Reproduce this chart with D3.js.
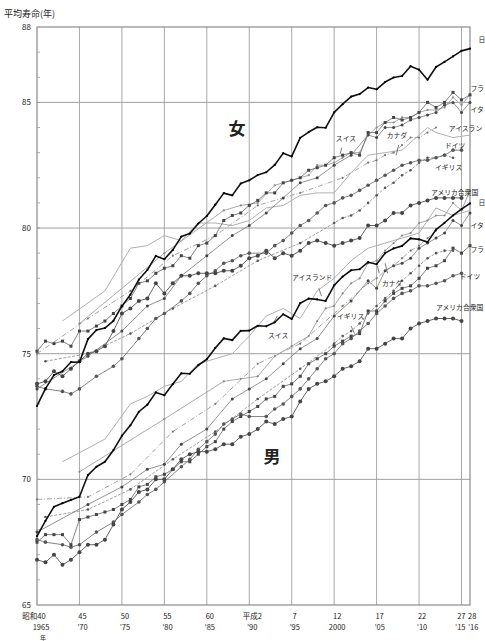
<!DOCTYPE html>
<html><head><meta charset="utf-8">
<script src="https://cdn.jsdelivr.net/npm/d3@7"></script>
<style>
body{margin:0;background:#fff;overflow:hidden;}
text{font-family:"Noto Sans CJK JP","Noto Sans",sans-serif;fill:#222;}
</style>
</head><body><svg id="c" width="485" height="641"></svg>
<script>
// ---------- data (年, 平均寿命) ----------
const yTicks = [65,70,75,80,85,88];
const xTickYears = [1965,1970,1975,1980,1985,1990,1995,2000,2005,2010,2015,2016];
const xTickWareki = ["昭和40","45","50","55","60","平成2","7","12","17","22","27","28"];
const xTickSeireki = ["1965","’70","’75","’80","’85","’90","’95","2000","’05","’10","’15","’16"];

const japanF = [[1965,72.92],[1966,73.61],[1967,74.15],[1968,74.30],[1969,74.67],[1970,74.66],[1971,75.58],[1972,75.94],[1973,76.02],[1974,76.31],[1975,76.89],[1976,77.35],[1977,77.95],[1978,78.33],[1979,78.89],[1980,78.76],[1981,79.13],[1982,79.66],[1983,79.78],[1984,80.18],[1985,80.48],[1986,80.93],[1987,81.39],[1988,81.30],[1989,81.77],[1990,81.90],[1991,82.11],[1992,82.22],[1993,82.51],[1994,82.98],[1995,82.85],[1996,83.59],[1997,83.82],[1998,84.01],[1999,83.99],[2000,84.60],[2001,84.93],[2002,85.23],[2003,85.33],[2004,85.59],[2005,85.52],[2006,85.81],[2007,85.99],[2008,86.05],[2009,86.44],[2010,86.30],[2011,85.90],[2012,86.41],[2013,86.61],[2014,86.83],[2015,87.05],[2016,87.14]];
const japanM = [[1965,67.74],[1966,68.35],[1967,68.91],[1968,69.05],[1969,69.18],[1970,69.31],[1971,70.17],[1972,70.50],[1973,70.70],[1974,71.16],[1975,71.73],[1976,72.15],[1977,72.69],[1978,72.97],[1979,73.46],[1980,73.35],[1981,73.79],[1982,74.22],[1983,74.20],[1984,74.54],[1985,74.78],[1986,75.23],[1987,75.61],[1988,75.54],[1989,75.91],[1990,75.92],[1991,76.11],[1992,76.09],[1993,76.25],[1994,76.57],[1995,76.38],[1996,77.01],[1997,77.19],[1998,77.16],[1999,77.10],[2000,77.72],[2001,78.07],[2002,78.32],[2003,78.36],[2004,78.64],[2005,78.56],[2006,79.00],[2007,79.19],[2008,79.29],[2009,79.59],[2010,79.55],[2011,79.44],[2012,79.94],[2013,80.21],[2014,80.50],[2015,80.75],[2016,80.98]];

const franceF = [[1965,75.1],[1966,75.5],[1967,75.4],[1968,75.5],[1969,75.3],[1970,75.9],[1971,75.9],[1972,76.1],[1973,76.3],[1974,76.6],[1975,76.9],[1976,77.2],[1977,77.8],[1978,77.9],[1979,78.2],[1980,78.4],[1981,78.5],[1982,78.9],[1983,78.8],[1984,79.3],[1985,79.4],[1986,79.7],[1987,80.3],[1988,80.5],[1989,80.6],[1990,80.9],[1991,81.1],[1992,81.4],[1993,81.4],[1994,81.8],[1995,81.9],[1996,82.0],[1997,82.3],[1998,82.4],[1999,82.5],[2000,82.8],[2001,82.9],[2002,83.0],[2003,82.9],[2004,83.8],[2005,83.8],[2006,84.2],[2007,84.4],[2008,84.3],[2009,84.4],[2010,84.6],[2011,85.0],[2012,84.8],[2013,85.0],[2014,85.4],[2015,85.1],[2016,85.3]];
const franceM = [[1965,67.5],[1966,67.8],[1967,67.8],[1968,67.8],[1969,67.4],[1970,68.4],[1971,68.5],[1972,68.6],[1973,68.7],[1974,68.8],[1975,69.0],[1976,69.2],[1977,69.7],[1978,69.8],[1979,70.1],[1980,70.2],[1981,70.4],[1982,70.7],[1983,70.7],[1984,71.0],[1985,71.3],[1986,71.5],[1987,72.0],[1988,72.3],[1989,72.5],[1990,72.7],[1991,72.9],[1992,73.2],[1993,73.3],[1994,73.7],[1995,73.8],[1996,74.1],[1997,74.6],[1998,74.8],[1999,75.0],[2000,75.3],[2001,75.5],[2002,75.7],[2003,75.8],[2004,76.7],[2005,76.7],[2006,77.1],[2007,77.4],[2008,77.6],[2009,77.7],[2010,78.0],[2011,78.4],[2012,78.5],[2013,78.7],[2014,79.2],[2015,79.0],[2016,79.3]];

const italyF = [[1965,73.6],[1971,74.9],[1975,75.9],[1978,76.9],[1980,77.2],[1982,78.1],[1985,78.9],[1988,79.7],[1990,80.1],[1992,80.6],[1994,81.2],[1996,81.8],[1998,82.0],[2000,82.5],[2002,82.9],[2004,83.7],[2005,83.6],[2006,84.0],[2007,84.0],[2008,84.1],[2009,84.3],[2010,84.4],[2011,84.5],[2012,84.6],[2013,84.9],[2014,85.0],[2015,84.6],[2016,85.0]];
const italyM = [[1965,67.9],[1971,69.0],[1975,69.7],[1978,70.4],[1980,70.6],[1982,71.4],[1985,72.0],[1988,73.2],[1990,73.6],[1992,74.0],[1994,74.6],[1996,75.2],[1998,75.6],[2000,76.5],[2002,77.1],[2004,77.9],[2005,77.6],[2006,78.3],[2007,78.5],[2008,78.6],[2009,78.8],[2010,79.2],[2011,79.4],[2012,79.6],[2013,79.8],[2014,80.3],[2015,80.1],[2016,80.6]];

const germanyF = [[1965,73.7],[1966,73.6],[1968,73.5],[1969,73.4],[1970,73.6],[1972,74.1],[1974,74.5],[1975,74.8],[1977,75.6],[1978,76.0],[1979,76.4],[1980,76.6],[1982,77.1],[1983,77.4],[1984,77.8],[1985,78.1],[1986,78.3],[1987,78.6],[1988,78.7],[1989,78.9],[1990,79.0],[1992,79.0],[1993,79.3],[1994,79.5],[1995,79.8],[1996,80.1],[1997,80.3],[1998,80.6],[1999,80.9],[2000,81.0],[2001,81.2],[2002,81.3],[2003,81.5],[2004,81.7],[2005,81.9],[2006,82.1],[2007,82.3],[2008,82.5],[2009,82.6],[2010,82.7],[2011,82.7],[2012,82.8],[2013,82.9],[2014,83.1],[2015,83.1]];
const germanyM = [[1965,67.6],[1966,67.5],[1968,67.4],[1969,67.3],[1970,67.4],[1972,67.9],[1974,68.3],[1975,68.6],[1977,69.1],[1978,69.4],[1979,69.6],[1980,69.9],[1982,70.5],[1983,70.8],[1984,71.2],[1985,71.5],[1986,71.8],[1987,72.2],[1988,72.4],[1989,72.6],[1990,72.5],[1992,72.5],[1993,72.8],[1994,73.0],[1995,73.3],[1996,73.6],[1997,74.0],[1998,74.4],[1999,74.8],[2000,75.0],[2001,75.4],[2002,75.6],[2003,75.9],[2004,76.2],[2005,76.6],[2006,76.9],[2007,77.2],[2008,77.4],[2009,77.5],[2010,77.7],[2011,77.7],[2012,77.8],[2013,77.9],[2014,78.1],[2015,78.2]];

const ukF = [[1966,74.7],[1971,75.0],[1976,75.8],[1981,76.8],[1986,77.7],[1991,78.7],[1996,79.4],[2000,80.2],[2001,80.4],[2002,80.5],[2003,80.7],[2004,81.0],[2005,81.3],[2006,81.6],[2007,81.8],[2008,82.1],[2009,82.3],[2010,82.6],[2011,82.8],[2012,82.8],[2013,82.9],[2014,82.8]];
const ukM = [[1966,68.5],[1971,68.8],[1976,69.6],[1981,70.8],[1986,71.9],[1991,73.2],[1996,74.4],[2000,75.4],[2001,75.7],[2002,75.9],[2003,76.2],[2004,76.6],[2005,76.9],[2006,77.2],[2007,77.5],[2008,77.9],[2009,78.2],[2010,78.5],[2011,78.8],[2012,79.0],[2013,79.1],[2014,79.1]];

const usaF = [[1965,73.8],[1966,73.9],[1967,74.3],[1968,74.1],[1969,74.4],[1970,74.7],[1971,75.0],[1972,75.1],[1973,75.3],[1974,75.9],[1975,76.6],[1976,76.8],[1977,77.1],[1978,77.2],[1979,77.8],[1980,77.4],[1981,77.8],[1982,78.1],[1983,78.1],[1984,78.2],[1985,78.2],[1986,78.2],[1987,78.3],[1988,78.3],[1989,78.5],[1990,78.8],[1991,78.9],[1992,79.1],[1993,78.8],[1994,79.0],[1995,78.9],[1996,79.1],[1997,79.4],[1998,79.5],[1999,79.4],[2000,79.3],[2001,79.4],[2002,79.5],[2003,79.6],[2004,80.1],[2005,80.1],[2006,80.3],[2007,80.6],[2008,80.6],[2009,80.9],[2010,81.0],[2011,81.1],[2012,81.2],[2013,81.2],[2014,81.2],[2015,81.2]];
const usaM = [[1965,66.8],[1966,66.7],[1967,67.0],[1968,66.6],[1969,66.8],[1970,67.1],[1971,67.4],[1972,67.4],[1973,67.6],[1974,68.2],[1975,68.8],[1976,69.1],[1977,69.5],[1978,69.6],[1979,70.0],[1980,70.0],[1981,70.4],[1982,70.8],[1983,71.0],[1984,71.1],[1985,71.1],[1986,71.2],[1987,71.4],[1988,71.4],[1989,71.7],[1990,71.8],[1991,72.0],[1992,72.3],[1993,72.2],[1994,72.4],[1995,72.5],[1996,73.1],[1997,73.6],[1998,73.8],[1999,73.9],[2000,74.1],[2001,74.4],[2002,74.5],[2003,74.7],[2004,75.2],[2005,75.2],[2006,75.4],[2007,75.6],[2008,75.6],[2009,76.0],[2010,76.2],[2011,76.3],[2012,76.4],[2013,76.4],[2014,76.4],[2015,76.3]];

const canadaF = [[1965,75.0],[1971,76.4],[1976,77.5],[1981,78.9],[1986,79.7],[1991,80.9],[1996,81.4],[2001,82.0],[2004,82.6],[2005,82.7],[2006,82.9],[2007,83.0],[2008,83.3],[2009,83.6],[2010,83.6],[2011,83.8],[2012,84.0]];
const canadaM = [[1965,69.2],[1971,69.3],[1976,70.2],[1981,71.9],[1986,73.0],[1991,74.6],[1996,75.4],[2001,76.9],[2004,77.8],[2005,78.0],[2006,78.3],[2007,78.5],[2008,78.8],[2009,79.1],[2010,79.3],[2011,79.6],[2012,79.9]];

const icelandF = [[1968,76.3],[1973,77.5],[1976,79.2],[1978,79.3],[1980,79.7],[1982,79.5],[1984,80.2],[1986,80.2],[1988,80.1],[1990,80.3],[1992,80.8],[1994,80.9],[1996,81.3],[1998,81.4],[2000,81.4],[2002,82.2],[2004,82.9],[2006,83.0],[2008,83.1],[2010,83.7],[2011,84.0],[2012,83.8],[2014,83.6],[2016,83.7]];
const icelandM = [[1968,70.7],[1973,71.6],[1976,73.0],[1978,73.3],[1980,73.7],[1982,73.9],[1984,74.6],[1986,74.8],[1988,75.0],[1990,75.7],[1992,76.5],[1994,76.8],[1996,76.4],[1998,77.5],[2000,78.0],[2002,78.7],[2004,79.2],[2006,79.4],[2008,79.6],[2010,79.8],[2012,80.8],[2014,80.5],[2016,80.7]];

const swissF = [[1970,76.2],[1980,79.0],[1987,80.7],[1989,80.9],[1991,81.0],[1993,81.7],[1995,81.9],[1997,82.1],[1998,82.5],[1999,82.5],[2000,82.6],[2001,82.8],[2002,83.0],[2003,83.0],[2004,83.7],[2005,84.0],[2006,84.2],[2007,84.2],[2008,84.4],[2009,84.4],[2010,84.6],[2011,84.7],[2012,84.7],[2013,84.8],[2014,85.2],[2015,84.9],[2016,85.3]];
const swissM = [[1970,70.3],[1980,72.4],[1987,73.9],[1989,74.0],[1991,74.1],[1993,74.9],[1995,75.3],[1997,75.7],[1998,76.3],[1999,76.8],[2000,76.9],[2001,77.4],[2002,77.8],[2003,78.0],[2004,78.6],[2005,78.7],[2006,79.1],[2007,79.4],[2008,79.7],[2009,79.8],[2010,80.2],[2011,80.3],[2012,80.5],[2013,80.5],[2014,81.0],[2015,80.7],[2016,81.5]];

// ---------- chart ----------
const svg = d3.select("#c");
const x = d3.scaleLinear().domain([1965,2016]).range([37,470]);
const y = d3.scaleLinear().domain([65,88]).range([605,27]);

// grid
const g = svg.append("g");
g.selectAll(".vg").data(xTickYears.slice(1,-1)).enter().append("line")
  .attr("x1",d=>x(d)).attr("x2",d=>x(d)).attr("y1",y(88)).attr("y2",y(65))
  .attr("stroke","#a8a8a8").attr("stroke-width",1);
g.selectAll(".hg").data([70,75,80,85]).enter().append("line")
  .attr("x1",x(1965)).attr("x2",x(2016)).attr("y1",d=>y(d)).attr("y2",d=>y(d))
  .attr("stroke","#a0a0a0").attr("stroke-width",1);
// frame
g.append("rect").attr("x",x(1965)).attr("y",y(88)).attr("width",x(2016)-x(1965)).attr("height",y(65)-y(88))
  .attr("fill","none").attr("stroke","#8a8a8a").attr("stroke-width",1.2);
// minor ticks on y axis
g.selectAll(".mt").data(d3.range(66,88)).enter().append("line")
  .attr("x1",x(1965)).attr("x2",x(1965)+3).attr("y1",d=>y(d)).attr("y2",d=>y(d))
  .attr("stroke","#999").attr("stroke-width",0.8);

// y labels
svg.selectAll(".yl").data(yTicks).enter().append("text")
  .attr("x",31).attr("y",d=>y(d)+3).attr("text-anchor","end")
  .attr("font-size",8).attr("fill","#444").text(d=>d);
// x labels
xTickYears.forEach((yr,i)=>{
  let anchor="middle", dx=3;
  if (yr===2015){anchor="end"; dx=4;}
  if (yr===2016){anchor="start"; dx=-2;}
  if (yr===1965){dx=-3;}
  svg.append("text").attr("x",x(yr)+dx).attr("y",619).attr("text-anchor",anchor)
    .attr("font-size",7.5).attr("fill","#333").text(xTickWareki[i]);
  svg.append("text").attr("x",x(yr)+dx+(yr===1965?7:0)).attr("y",630).attr("text-anchor",anchor)
    .attr("font-size",7.5).attr("fill","#333").text(xTickSeireki[i]);
});
svg.append("text").attr("x",43).attr("y",640).attr("text-anchor","middle").attr("font-size",6).text("年");
svg.append("text").attr("x",4).attr("y",17).attr("font-size",9).attr("fill","#222").text("平均寿命(年)");

// series
const styles = {
  iceland:{stroke:"#b0b0b0",w:1,marker:null},
  canada:{stroke:"#9a9a9a",w:0.9,marker:"dot",r:1.1,fill:"#777",dash:"5,2,1,2"},
  swiss:{stroke:"#a0a0a0",w:0.9,marker:"dot",r:1.1,fill:"#888"},
  uk:{stroke:"#888",w:0.8,marker:"dot",r:1.3,fill:"#555",dash:"3,1.5"},
  italy:{stroke:"#777",w:0.8,marker:"dot",r:1.5,fill:"#444"},
  germany:{stroke:"#666",w:0.8,marker:"circle",r:1.8,fill:"#555"},
  france:{stroke:"#666",w:0.8,marker:"square",r:1.5,fill:"#444"},
  usa:{stroke:"#555",w:0.9,marker:"circle",r:2,fill:"#444"},
  japan:{stroke:"#111",w:1.6,marker:"dot",r:1.1,fill:"#000"}
};
const series = [
  ["iceland",icelandF],["iceland",icelandM],
  ["canada",canadaF],["canada",canadaM],
  ["swiss",swissF],["swiss",swissM],
  ["uk",ukF],["uk",ukM],
  ["italy",italyF],["italy",italyM],
  ["germany",germanyF],["germany",germanyM],
  ["france",franceF],["france",franceM],
  ["usa",usaF],["usa",usaM],
  ["japan",japanF],["japan",japanM]
];
const line = d3.line().x(d=>x(d[0])).y(d=>y(d[1]));
series.forEach(([k,data])=>{
  const s = styles[k];
  const gg = svg.append("g");
  gg.append("path").datum(data).attr("d",line).attr("fill","none")
    .attr("stroke",s.stroke).attr("stroke-width",s.w)
    .attr("stroke-dasharray",s.dash||null).attr("stroke-linejoin","round");
  if (s.marker==="square"){
    gg.selectAll("rect").data(data).enter().append("rect")
      .attr("x",d=>x(d[0])-s.r).attr("y",d=>y(d[1])-s.r)
      .attr("width",s.r*2).attr("height",s.r*2).attr("fill",s.fill);
  } else if (s.marker){
    gg.selectAll("circle").data(data).enter().append("circle")
      .attr("cx",d=>x(d[0])).attr("cy",d=>y(d[1])).attr("r",s.r).attr("fill",s.fill);
  }
});

// annotations (year, value positions); right-edge labels show the part visible in the reference
const notes = [
  ["日",2017.0,87.4],["フラ",2016.05,85.45],["イタ",2016.05,84.62],
  ["アイスラン",2013.5,83.86],["ドイツ",2013.06,83.2],["イギリス",2011.88,82.32],
  ["アメリカ合衆国",2011.4,81.32],["スイス",2000.2,83.48],["カナダ",2006.2,83.6],
  ["日",2017.0,80.9],["イタ",2016.05,80.0],["フラ",2016.05,79.05],
  ["ドイツ",2014.8,77.98],["アメリカ合衆国",2012.0,76.72],["アイスランド",1995.04,77.95],
  ["カナダ",2005.64,77.7],["スイス",1992.21,75.62],["イギリス",2000.34,76.4]
];
notes.forEach(([t,yr,v])=>{
  svg.append("text").attr("x",x(yr)).attr("y",y(v)).attr("font-size",6.8)
    .attr("fill","#333").text(t);
});
// leader lines [yr1,v1,yr2,v2]
const leaders = [
  [2000.9,83.2,2000.7,82.95],[2007.6,83.3,2007.3,82.9],
  [1998.2,77.6,1998.5,77.3],[2005.3,78.2,2005.1,78.5],[2006.3,78.2,2006.0,78.6],
  [2002.0,76.1,2002.4,75.8],[1992.8,76.2,1993.3,76.5]
];
svg.selectAll(".ld").data(leaders).enter().append("line")
  .attr("x1",d=>x(d[0])).attr("y1",d=>y(d[1])).attr("x2",d=>x(d[2])).attr("y2",d=>y(d[3]))
  .attr("stroke","#444").attr("stroke-width",0.7);

svg.append("text").attr("x",x(1988.56)).attr("y",y(83.7)).attr("text-anchor","middle")
  .attr("font-size",17).attr("font-weight","bold").attr("fill","#000").text("女");
svg.append("text").attr("x",x(1992.68)).attr("y",y(70.65)).attr("text-anchor","middle")
  .attr("font-size",17).attr("font-weight","bold").attr("fill","#000").text("男");
</script></body></html>
